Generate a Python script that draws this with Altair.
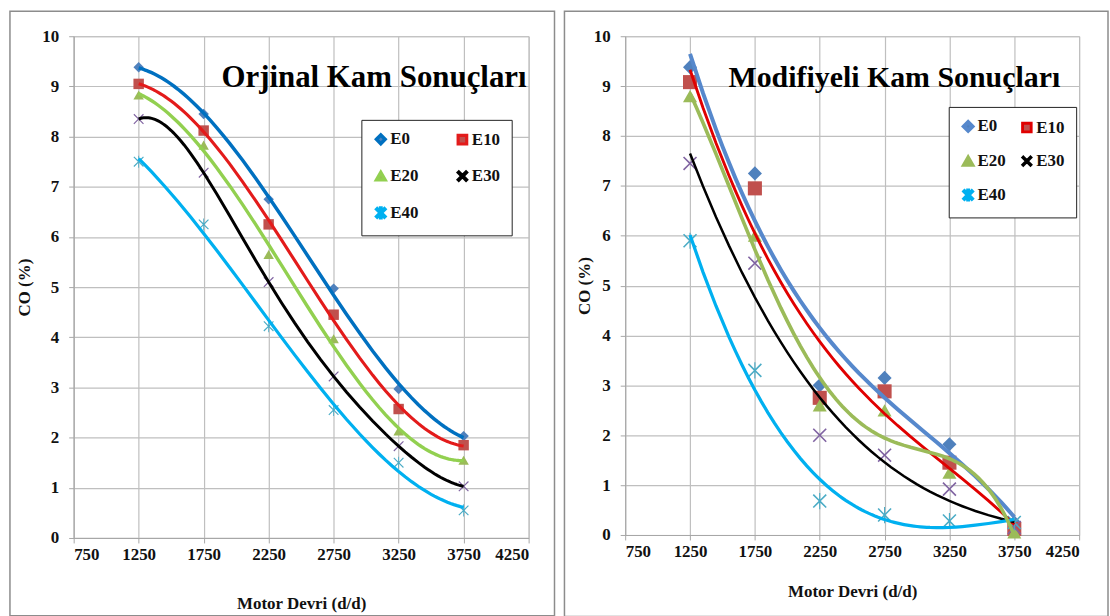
import altair as alt
import pandas as pd

# ---------------- data ----------------
rpm = [1250, 1750, 2250, 2750, 3250, 3750]
series = ["E0", "E10", "E20", "E30", "E40"]

orj_e0 = [9.38, 8.45, 6.75, 4.97, 2.97, 2.03]
orj_e10 = [9.05, 8.12, 6.25, 4.45, 2.57, 1.85]
orj_e20 = [8.83, 7.83, 5.65, 3.97, 2.13, 1.55]
orj_e30 = [8.35, 7.28, 5.10, 3.22, 1.83, 1.03]
orj_e40 = [7.50, 6.25, 4.22, 2.55, 1.50, 0.55]

mod_e0 = [9.38, 7.25, 3.00, 3.15, 1.82, 0.25]
mod_e10 = [9.08, 6.95, 2.75, 2.88, 1.45, 0.12]
mod_e20 = [8.80, 6.00, 2.60, 2.50, 1.25, 0.05]
mod_e30 = [7.45, 5.45, 2.00, 1.60, 0.92, 0.15]
mod_e40 = [5.90, 3.30, 0.68, 0.40, 0.28, 0.25]

x_ticks = [750, 1250, 1750, 2250, 2750, 3250, 3750, 4250]
y_ticks = [0, 1, 2, 3, 4, 5, 6, 7, 8, 9, 10]

# legend order (Vega fills legend columns top-down): E0 E10 / E20 E30 / E40
legend_order = ["E0", "E20", "E40", "E10", "E30"]

marker_colors = {"E0": "#4F81BD", "E10": "#C0504D", "E20": "#9BBB59",
                 "E30": "#8064A2", "E40": "#4BACC6"}
orj_line_colors = {"E0": "#0070C0", "E10": "#E31B1B", "E20": "#92D050",
                   "E30": "#000000", "E40": "#00B0F0"}
mod_line_colors = {"E0": "#5688CC", "E10": "#E00000", "E20": "#9BBB59",
                   "E30": "#000000", "E40": "#00B0F0"}
orj_line_widths = {"E0": 3.5, "E10": 3, "E20": 3, "E30": 3, "E40": 3}
mod_line_widths = {"E0": 4, "E10": 2.8, "E20": 2.5, "E30": 2.5, "E40": 3}

X_PATH = ("M-1,-0.84L-0.84,-1L0,-0.16L0.84,-1L1,-0.84L0.16,0L1,0.84L0.84,1"
          "L0,0.16L-0.84,1L-1,0.84L-0.16,0Z")
STAR_PATH = X_PATH + "M-0.08,-1.15L0.08,-1.15L0.08,1.15L-0.08,1.15Z"
shapes = {"E0": "diamond", "E10": "square", "E20": "triangle-up",
          "E30": X_PATH, "E40": STAR_PATH}

FONT = "Liberation Serif, DejaVu Serif, Noto Serif, Times New Roman, serif"


def make_df(vals):
    rows = []
    for name, v in zip(series, vals):
        for r, c in zip(rpm, v):
            rows.append({"series": name, "rpm": r, "co": c})
    return pd.DataFrame(rows)


def rng(d):
    return [d[k] for k in legend_order]


def panel(vals, title, title_size, line_colors, line_widths, msize, w, h, title_x,
          legend_xy, col_pad, row_pad, x_title_pad, y_title_x, frame, orders):
    df = make_df(vals)
    base = alt.Chart(df)
    xenc = alt.X("rpm:Q", scale=alt.Scale(domain=[750, 4250], nice=False),
                 axis=alt.Axis(values=x_ticks, title="Motor Devri (d/d)",
                               titlePadding=x_title_pad, format="d",
                               labelPadding=4))
    yenc = alt.Y("co:Q", scale=alt.Scale(domain=[0, 10], nice=False),
                 axis=alt.Axis(values=y_ticks, title="CO (%)",
                               titleX=y_title_x, titleY=h / 2, labelPadding=10))
    leg = alt.Legend(title=None, orient="none", legendX=legend_xy[0],
                     legendY=legend_xy[1], columns=2, columnPadding=col_pad,
                     rowPadding=row_pad, padding=11, strokeColor="#222222",
                     fillColor="white", symbolSize=75, symbolStrokeWidth=0,
                     labelFont=FONT, labelFontWeight="bold", labelFontSize=17,
                     labelColor="#111111", labelOffset=1)
    points = base.mark_point(filled=True, size=msize, strokeWidth=0,
                             opacity=1).encode(
        x=xenc, y=yenc,
        fill=alt.Fill("series:N",
                      scale=alt.Scale(domain=legend_order, range=rng(marker_colors)),
                      legend=leg),
        shape=alt.Shape("series:N",
                        scale=alt.Scale(domain=legend_order, range=rng(shapes)),
                        legend=leg),
    )
    line_layers = []
    for order in sorted(set(orders.values())):
        names = [k for k in series if orders[k] == order]
        line_layers.append(base.transform_filter(
            alt.FieldOneOfPredicate(field="series", oneOf=names)
        ).transform_regression(
            "rpm", "co", groupby=["series"], method="poly", order=order,
            extent=[1250, 3750]
        ).mark_line().encode(
            x="rpm:Q", y="co:Q",
            stroke=alt.Stroke("series:N",
                              scale=alt.Scale(domain=legend_order,
                                              range=rng(line_colors)),
                              legend=None),
            strokeWidth=alt.StrokeWidth("series:N",
                                        scale=alt.Scale(domain=legend_order,
                                                        range=rng(line_widths)),
                                        legend=None),
        ))
    one = pd.DataFrame({"t": [title]})
    ttl = alt.Chart(one).mark_text(
        align="right", baseline="alphabetic", font=FONT, fontWeight="bold",
        fontSize=title_size, color="#000000"
    ).encode(text="t:N", x=alt.value(title_x), y=alt.value(51))
    frm = alt.Chart(pd.DataFrame({"a": [0]})).mark_rect(
        fill="transparent", stroke="#8C8C8C", strokeWidth=1.5
    ).encode(x=alt.value(frame[0]), x2=alt.value(frame[1]),
             y=alt.value(frame[2]), y2=alt.value(frame[3]))
    return alt.layer(frm, points, *line_layers, ttl).properties(width=w, height=h)


left = panel([orj_e0, orj_e10, orj_e20, orj_e30, orj_e40], "Orjinal Kam Sonuçları", 31,
             orj_line_colors, orj_line_widths, 110, 457, 504, 455,
             (289, 84), 32, 15, 33, -40, (-64, 483, -25, 582),
             {"E0": 3, "E10": 3, "E20": 3, "E30": 5, "E40": 3})
right = panel([mod_e0, mod_e10, mod_e20, mod_e30, mod_e40], "Modifiyeli Kam Sonuçları", 30,
              mod_line_colors, mod_line_widths, 200, 456, 501, 437,
              (325, 71), 10, 11, 24, -32, (-61, 485, -25, 583),
              {"E0": 3, "E10": 3, "E20": 4, "E30": 3, "E40": 3})

chart = alt.hconcat(left, right, spacing=6).resolve_scale(
    x="independent", y="independent", fill="independent", shape="independent",
    stroke="independent", strokeWidth="independent"
).resolve_legend(fill="independent", shape="independent").properties(
    padding={"left": 8, "top": 8, "right": 0, "bottom": 0}
).configure_view(stroke="#BFBFBF", strokeWidth=1).configure_axis(
    labelFont=FONT, labelFontWeight="bold", labelFontSize=17, labelColor="#111111",
    titleFont=FONT, titleFontWeight="bold", titleFontSize=17, titleColor="#111111",
    gridColor="#BFBFBF", gridWidth=1.2, domainColor="#A6A6A6", tickColor="#A6A6A6",
    tickSize=5
)

chart.save("out.html", embed_options={"renderer": "svg", "actions": False})
